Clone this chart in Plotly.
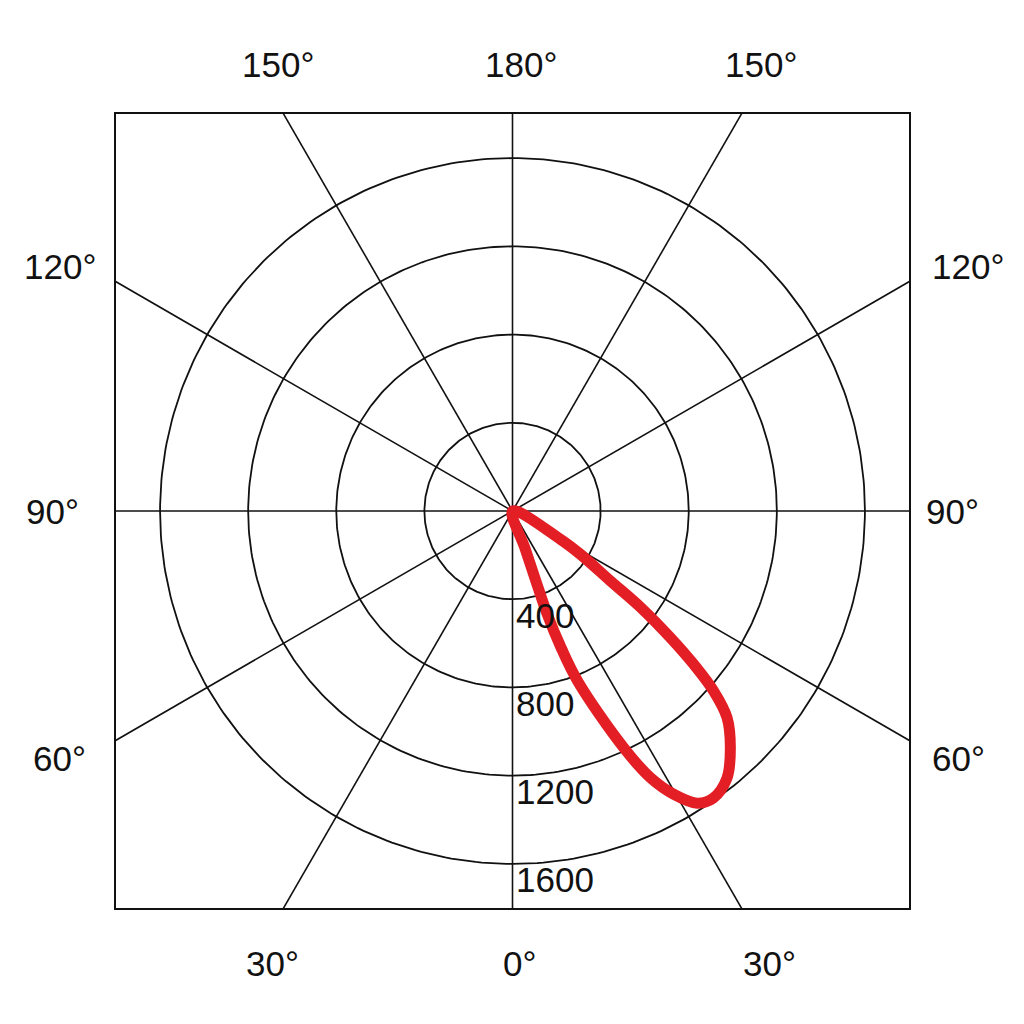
import numpy as np
import plotly.graph_objects as go

# Luminous intensity curve (angle from nadir in degrees, intensity in cd)
curve_angle_deg = [58.5, 59.5, 57.5, 54.5, 53.1, 51.3, 49.8, 48.2, 46.1, 42.6, 38.8,
                   35.0, 32.3, 29.7, 27.4, 25.2, 21.0, 19.6, 18.6, 18.5, 18.5, 18.5]
curve_intensity = [0, 253, 366, 547, 728, 919, 1077, 1225, 1352, 1461, 1554,
                   1589, 1567, 1479, 1363, 1187, 828, 660, 491, 320, 175, 0]

ring_values = [400, 800, 1200, 1600]
ring_labels = ["400", "800", "1200", "1600"]
spoke_angles_deg = [0, 30, 60, 90, 120, 150, 180, 210, 240, 270, 300, 330]

# angle labels placed around the frame (pixel anchors of the reference layout)
angle_label_text = ["0°", "30°", "30°", "60°", "60°", "90°", "90°",
                    "120°", "120°", "150°", "150°", "180°"]
angle_label_px = [(518, 962), (271, 962), (768, 962),
                  (58, 757), (957, 757), (51, 510), (951, 510),
                  (59, 265), (967, 265), (277, 63), (760, 63), (520, 63)]

R = 1800
BLACK = "#111111"
FONT = "Liberation Sans, Arial, sans-serif"
fig = go.Figure()

# rings
t = np.linspace(0, 2 * np.pi, 361)
for rv in ring_values:
    fig.add_trace(go.Scatter(x=rv * np.sin(t), y=-rv * np.cos(t), mode="lines",
                             line=dict(color=BLACK, width=1.8), hoverinfo="skip",
                             showlegend=False))

# spokes (extended, clipped to frame)
for a in spoke_angles_deg:
    ar = np.deg2rad(a)
    fig.add_trace(go.Scatter(x=[0, 4000 * np.sin(ar)], y=[0, -4000 * np.cos(ar)],
                             mode="lines", line=dict(color=BLACK, width=1.6),
                             hoverinfo="skip", showlegend=False))

# curve
th = np.deg2rad(np.array(curve_angle_deg))
ri = np.array(curve_intensity, dtype=float)
fig.add_trace(go.Scatter(x=ri * np.sin(th), y=-ri * np.cos(th), mode="lines",
                         line=dict(color="#e31e24", width=11, shape="spline", smoothing=1.0),
                         showlegend=False))

# plot area in page pixels (reference)
PL, PT, PW, PH = 115, 113, 793, 794

ann = []
for rv, lab in zip(ring_values, ring_labels):
    ann.append(dict(x=5, y=-rv - 73, xref="x", yref="y", text=lab, showarrow=False,
                    xanchor="left", yanchor="middle",
                    font=dict(size=35, color=BLACK, family=FONT)))
for txt, (px, py) in zip(angle_label_text, angle_label_px):
    ann.append(dict(x=(px - PL) / PW, y=(PT + PH - py) / PH, xref="paper", yref="paper",
                    text=txt, showarrow=False, xanchor="center", yanchor="middle",
                    font=dict(size=35, color=BLACK, family=FONT)))

ax = dict(range=[-R, R], showgrid=False, zeroline=False, showticklabels=False,
          ticks="", showline=True, mirror=True, linecolor=BLACK, linewidth=2.2,
          fixedrange=True)
fig.update_layout(width=1024, height=1024, margin=dict(l=108, r=123, t=106, b=124),
                  plot_bgcolor="white", paper_bgcolor="white",
                  xaxis=ax, yaxis=ax, annotations=ann, showlegend=False)

fig.write_html("out.html")
